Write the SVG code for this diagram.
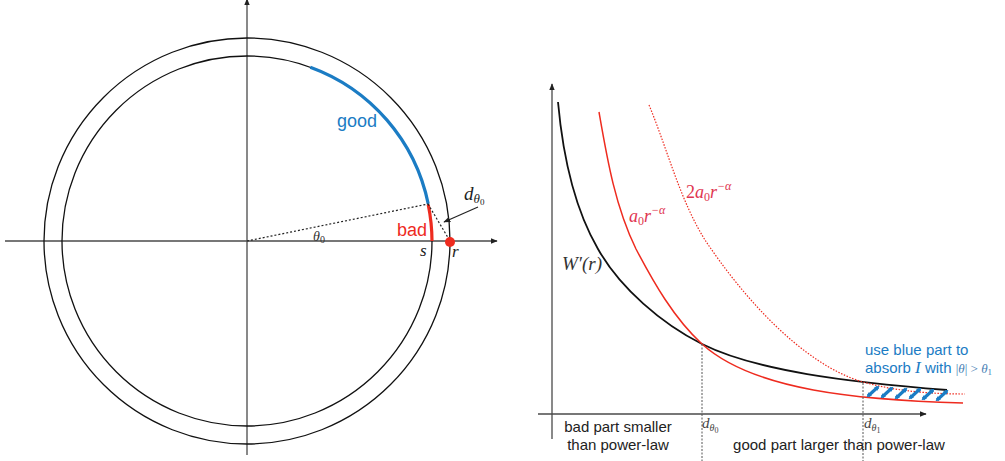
<svg xmlns="http://www.w3.org/2000/svg" width="1005" height="461" viewBox="0 0 1005 461">
<defs>
<marker id="ah" viewBox="0 0 10 10" refX="9" refY="5" markerWidth="7" markerHeight="7" markerUnits="userSpaceOnUse" orient="auto"><path d="M0,1 L10,5 L0,9 z" fill="#222"/></marker>
<marker id="bh" viewBox="0 0 10 10" refX="6" refY="5" markerWidth="5" markerHeight="5" markerUnits="userSpaceOnUse" orient="auto-start-reverse"><path d="M0,0 L10,5 L0,10 z" fill="#1b7cc4"/></marker>
</defs>
<style>
.ax{stroke:#4a4a4a;stroke-width:1.3;fill:none}
.circ{stroke:#111;stroke-width:1.3;fill:none}
.dot{stroke:#222;stroke-width:1.2;stroke-dasharray:2 2;fill:none}
.vdot{stroke:#555;stroke-width:1;stroke-dasharray:2 1.5;fill:none}
.blk{stroke:#111;stroke-width:1.8;fill:none}
.red{stroke:#ee2b1f;stroke-width:1.5;fill:none}
.reddot{stroke:#ee2b1f;stroke-width:1.2;stroke-dasharray:1.5 1.5;fill:none}
.sans{font-family:"Liberation Sans",Arial,sans-serif}
.math{font-family:"Liberation Serif","Times New Roman",serif;font-style:italic}
.hatch{stroke:#1b7cc4;stroke-width:3.2;fill:none}
</style>

<g id="left-axes">
<line class="ax" x1="5" y1="241" x2="497" y2="241" marker-end="url(#ah)"/>
<line class="ax" x1="247" y1="455" x2="247" y2="-1" marker-end="url(#ah)"/>
</g>
<g id="circles">
<circle class="circ" cx="247" cy="241" r="203"/>
<circle class="circ" cx="247" cy="241" r="185"/>
</g>
<g id="good-arc">
<path d="M310.3,67.2 A185,185 0 0 1 428.2,203.8" stroke="#1b7cc4" stroke-width="3.2" fill="none"/>
<text class="sans" x="337" y="127" font-size="18" fill="#1b7cc4">good</text>
</g>
<g id="bad-arc">
<path d="M428.2,204.5 A185,185 0 0 1 432,241" stroke="#ee2b1f" stroke-width="3.2" fill="none"/>
<text class="sans" x="397" y="236" font-size="18" fill="#ee2b1f">bad</text>
</g>
<g id="left-connectors">
<line class="dot" x1="247" y1="241" x2="428" y2="204"/>
<line class="dot" x1="428" y1="204" x2="450" y2="241"/>
<line x1="478" y1="207" x2="444" y2="222" stroke="#222" stroke-width="1.2" marker-end="url(#ah)"/>
</g>
<g id="left-labels">
<circle cx="450" cy="242" r="5" fill="#ee2b1f"/>
<text class="math" x="313" y="241" font-size="14" fill="#333">θ<tspan font-style="normal" font-size="10" dy="2">0</tspan></text>
<text class="math" x="420" y="256" font-size="17" fill="#222">s</text>
<text class="math" x="452" y="257" font-size="17" fill="#222">r</text>
<text class="math" x="464" y="200" font-size="19" fill="#222">d<tspan font-size="13" dy="3">θ</tspan><tspan font-style="normal" font-size="9" dy="2">0</tspan></text>
</g>

<g id="right-axes">
<line class="ax" x1="552" y1="439" x2="552" y2="84" marker-end="url(#ah)"/>
<line class="ax" x1="538" y1="414" x2="926" y2="414" marker-end="url(#ah)"/>
</g>
<g id="curves">
<path class="blk" d="M558,102 C562.5,152 573,206 598,249 C620,288 662,324 702,344 C755.6,370.8 847,382 947,390"/>
<path class="red" d="M599,112 C607,158 615,206 636,249 C653.7,282.6 674,318.5 702,344 C754,391 860,400 963,403"/>
<path class="reddot" d="M649,105 C667.5,149.5 680,200 705,240 C741,294 801,364 863,382 C895,391 930,394 965,394"/>
</g>
<g id="guides">
<line class="vdot" x1="702" y1="344" x2="702" y2="461"/>
<line class="vdot" x1="863" y1="383" x2="863" y2="461"/>
</g>
<g id="hatch">
<line class="hatch" x1="868" y1="396" x2="878" y2="387" marker-start="url(#bh)" marker-end="url(#bh)"/>
<line class="hatch" x1="882" y1="397" x2="892" y2="388" marker-start="url(#bh)" marker-end="url(#bh)"/>
<line class="hatch" x1="896" y1="398" x2="906" y2="389" marker-start="url(#bh)" marker-end="url(#bh)"/>
<line class="hatch" x1="910" y1="398" x2="920" y2="389" marker-start="url(#bh)" marker-end="url(#bh)"/>
<line class="hatch" x1="923" y1="399" x2="933" y2="390" marker-start="url(#bh)" marker-end="url(#bh)"/>
<line class="hatch" x1="937" y1="400" x2="947" y2="391" marker-start="url(#bh)" marker-end="url(#bh)"/>
</g>
<g id="right-labels">
<text class="math" x="562" y="270" font-size="19" fill="#333">W′(<tspan>r</tspan>)</text>
<text class="math" x="629" y="222" font-size="18" fill="#e0354f">a<tspan font-style="normal" font-size="12" dy="3">0</tspan><tspan dy="-3">r</tspan><tspan font-size="12" dy="-8">−α</tspan></text>
<text class="math" x="686" y="198" font-size="18" fill="#e0354f"><tspan font-style="normal">2</tspan>a<tspan font-style="normal" font-size="12" dy="3">0</tspan><tspan dy="-3">r</tspan><tspan font-size="12" dy="-8">−α</tspan></text>
<text class="math" x="702" y="428" font-size="15" fill="#444">d<tspan font-size="10" dy="3">θ</tspan><tspan font-style="normal" font-size="8" dy="2">0</tspan></text>
<text class="math" x="864" y="428" font-size="15" fill="#444">d<tspan font-size="10" dy="3">θ</tspan><tspan font-style="normal" font-size="8" dy="2">1</tspan></text>
<text class="sans" x="618" y="432" font-size="15" fill="#222" text-anchor="middle">bad part smaller</text>
<text class="sans" x="618" y="450" font-size="15" fill="#222" text-anchor="middle">than power-law</text>
<text class="sans" x="839" y="450" font-size="15" fill="#222" text-anchor="middle">good part larger than power-law</text>
<text class="sans" x="865" y="355" font-size="15" fill="#1b7cc4">use blue part to</text>
<text class="sans" x="865" y="373" font-size="15" fill="#1b7cc4">absorb <tspan class="math" font-size="17">I</tspan> with <tspan font-family="Liberation Serif,serif" font-size="13" fill="#4a7fb5">|<tspan font-style="italic">θ</tspan>| &gt; <tspan font-style="italic">θ</tspan><tspan font-size="9" dy="2">1</tspan></tspan></text>
</g>
</svg>
